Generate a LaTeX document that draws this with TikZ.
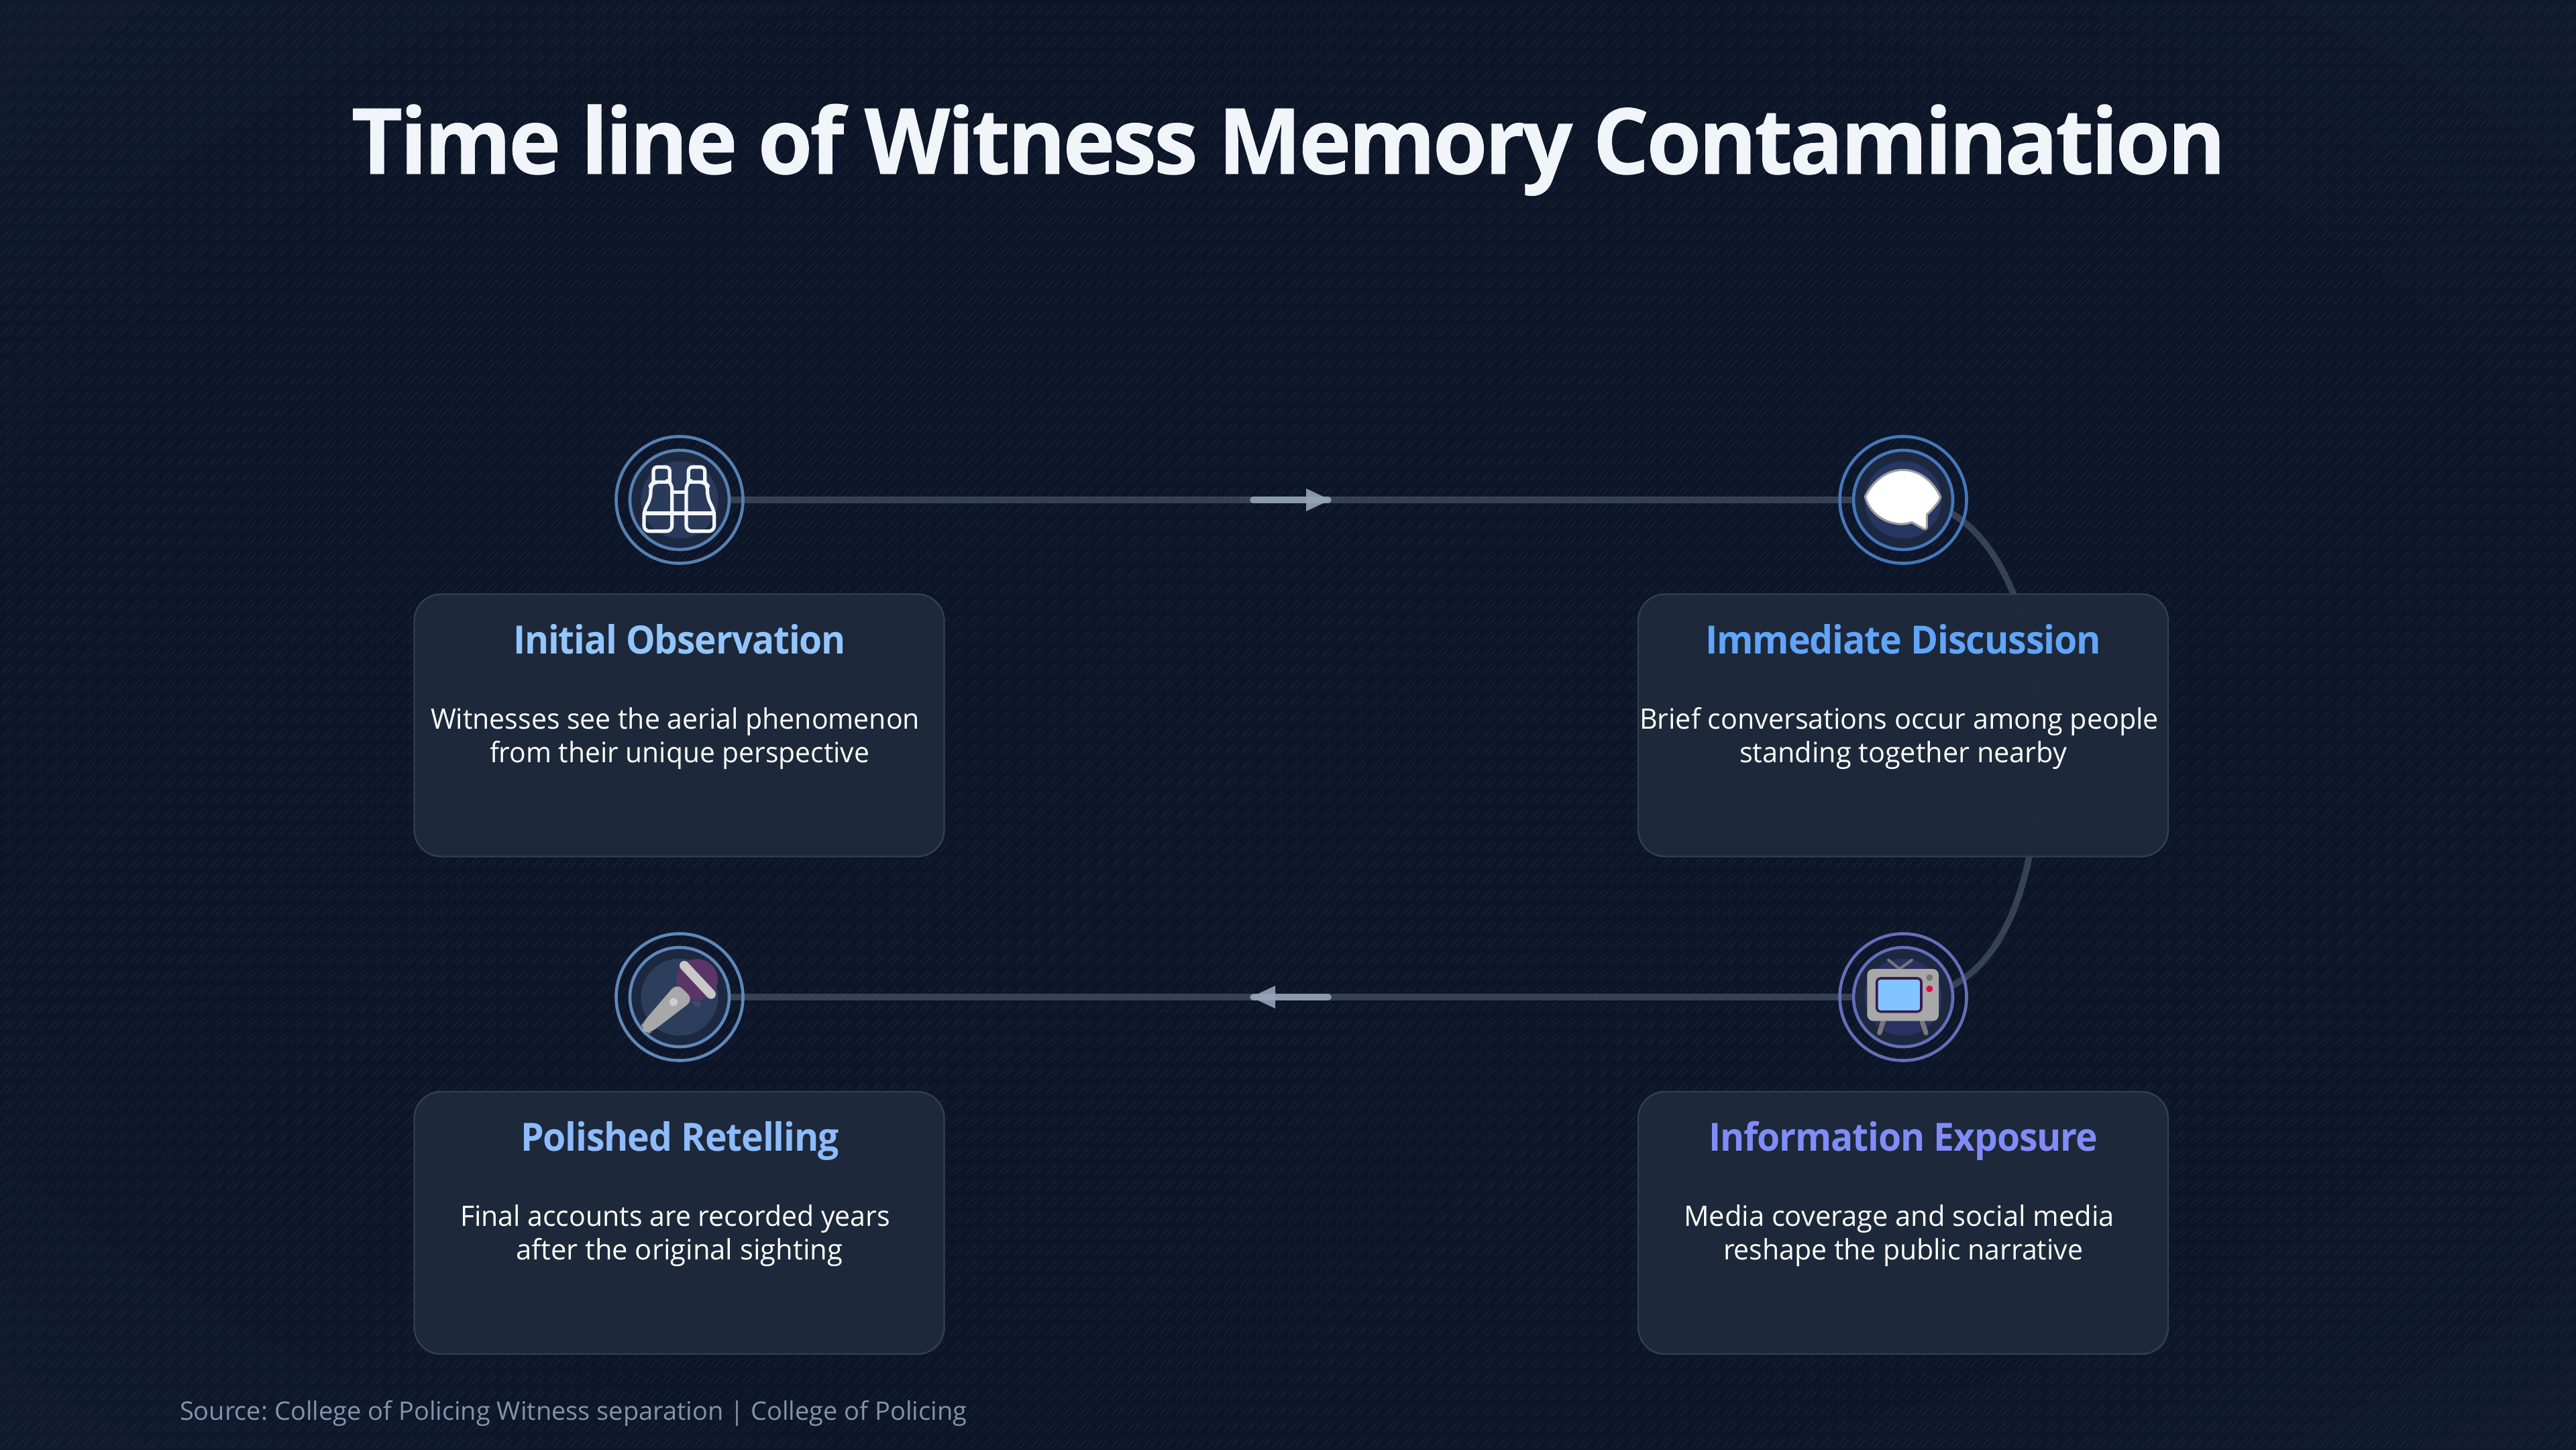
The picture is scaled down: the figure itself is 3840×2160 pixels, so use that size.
\documentclass[tikz,border=0pt]{standalone}
\usepackage{graphicx}
\usepackage{fontspec}
\setmainfont{Open Sans}
\usetikzlibrary{patterns,shapes.geometric}
\definecolor{bgmid}{HTML}{0D1628}
\definecolor{bgedge}{HTML}{1B2741}
\definecolor{cardfill}{HTML}{1E293B}
\definecolor{cardline}{HTML}{333E52}
\definecolor{linkc}{HTML}{94A3B8}
\definecolor{titlec}{HTML}{F1F5F9}
\definecolor{srcc}{HTML}{8294AE}
\definecolor{tA}{HTML}{93C5FD}
\definecolor{tB}{HTML}{60A5FA}
\definecolor{tC}{HTML}{8DBBFB}
\definecolor{tD}{HTML}{818CF8}
\definecolor{ringA}{HTML}{5580B2}
\definecolor{ringB}{HTML}{4577BA}
\definecolor{ringC}{HTML}{5E88B8}
\definecolor{ringD}{HTML}{646EB8}
\definecolor{annul}{HTML}{1C2840}
\definecolor{discA}{HTML}{2A3A5A}
\definecolor{discB}{HTML}{273761}
\definecolor{discC}{HTML}{2D3D5C}
\definecolor{discD}{HTML}{2A3160}
\definecolor{iconw}{HTML}{F1F5F9}
\pgfdeclareradialshading{bgglow}{\pgfpointorigin}{color(0bp)=(bgmid); color(25bp)=(bgmid); color(70.7bp)=(bgedge)}
\pgfdeclarepatternformonly{hatchtile}{\pgfqpoint{0pt}{0pt}}{\pgfqpoint{12pt}{12pt}}{\pgfqpoint{12pt}{12pt}}{%
  \pgfsetlinewidth{.7pt}\pgfsetroundcap
  \pgfpathmoveto{\pgfqpoint{1pt}{2pt}}\pgfpathlineto{\pgfqpoint{8.5pt}{10pt}}
  \pgfpathmoveto{\pgfqpoint{5pt}{1.5pt}}\pgfpathlineto{\pgfqpoint{11.5pt}{8.5pt}}
  \pgfusepath{stroke}}
\newcommand\fitw[2]{\resizebox{#1pt}{\height}{#2}}
\pgfdeclarelayer{back}
\pgfsetlayers{back,main}
\frenchspacing
\tikzset{
  txt/.style={anchor=base west,inner sep=0pt,outer sep=0pt},
  maintitle/.style={txt,text=titlec,font=\fontsize{68}{68}\selectfont\bfseries\addfontfeature{LetterSpace=-3,FakeBold=0.6}},
  cardhead/.style={txt,font=\fontsize{29}{29}\selectfont\bfseries\addfontfeature{LetterSpace=-2}},
  cardbody/.style={txt,text=white,font=\fontsize{21}{21}\selectfont},
  srctext/.style={txt,text=srcc,font=\fontsize{19}{19}\selectfont},
  cardbox/.style={draw=cardline,line width=1.2pt,fill=cardfill,fill opacity=.97,rounded corners=20pt,inner sep=0pt,minimum width=395pt,minimum height=195.5pt},
  link/.style={draw=linkc,draw opacity=.3,line width=4.8pt},
  flow/.style={draw=linkc,line width=4.8pt,line cap=round,draw opacity=.9},
  flowhead/.style={fill=linkc,fill opacity=.9},
  ringout/.style={circle,draw=#1,line width=2.3pt,minimum size=94.5pt,inner sep=0pt,outer sep=0pt},
  ringin/.style={circle,draw=#1,line width=2.3pt,minimum size=74pt,inner sep=0pt,outer sep=0pt,fill=annul},
  disc/.style={circle,fill=#1,minimum size=57.5pt,inner sep=0pt,outer sep=0pt},
  glyph/.style={shift={(#1)},x=.16667pt,y=-.16667pt},
  binoc/.style={draw=iconw,line width=2.6pt,line join=round,line cap=round},
}
\begin{document}
\begin{tikzpicture}[x=.5pt,y=-.5pt]
\useasboundingbox (0,0) rectangle (3840,2160);
% rings and discs
\foreach \nm/\px/\py/\rc/\dc in {a/1013/745/ringA/discA,b/2837/745/ringB/discB,c/1013/1486/ringC/discC,d/2837/1486/ringD/discD}{
  \node[ringout=\rc] (\nm) at (\px,\py) {};
  \node[ringin=\rc] (\nm in) at (\px,\py) {};
  \node[disc=\dc] (\nm disc) at (\px,\py) {};
}
\begin{pgfonlayer}{back}
  \shade[shading=bgglow] (0,0) rectangle (3840,2160);
  \fill[pattern=hatchtile,pattern color=white,fill opacity=.05] (0,0) rectangle (3840,2160);
  \coordinate (bend) at (3040,1114);
  \draw[link] (a.center) -- (b.center);
  \draw[link] (b.center) .. controls (2960,745) and (3040,900) .. (bend)
     .. controls (3040,1300) and (2990,1486) .. (d.center);
  \draw[link] (d.center) -- (c.center);
\end{pgfonlayer}
% cards
\node[cardbox] (card a) at (1012.5,1081) {};
\node[cardbox] (card b) at (2837,1081) {};
\node[cardbox] (card c) at (1012.5,1822.5) {};
\node[cardbox] (card d) at (2837,1822.5) {};
% flow arrows
\coordinate (fa0) at (1868,745);\coordinate (fa1) at (1980,745);
\coordinate (fb0) at (1980,1486);\coordinate (fb1) at (1868,1486);
\draw[flow] (fa0) -- (fa1);
\fill[flowhead] (1947,728) -- (1983,745) -- (1947,762) -- cycle;
\draw[flow] (fb0) -- (fb1);
\fill[flowhead] (1901,1469) -- (1865,1486) -- (1901,1503) -- cycle;
% title and source
\node[maintitle] (title) at (524,259) {\fitw{1397}{Time line of Witness Memory Contamination}};
\node[srctext] (source) at (268,2116) {\fitw{586.5}{Source: College of Policing Witness separation | College of Policing}};
% card texts
\node[cardhead,text=tA] (h a) at (765,974) {\fitw{248}{Initial Observation}};
\node[cardbody] (a1) at (642,1086) {\fitw{364.5}{Witnesses see the aerial phenomenon}};
\node[cardbody] (a2) at (730,1136) {\fitw{283}{from their unique perspective}};
\node[cardhead,text=tB] (h b) at (2542,974) {\fitw{295}{Immediate Discussion}};
\node[cardbody] (b1) at (2444,1086) {\fitw{387}{Brief conversations occur among people}};
\node[cardbody] (b2) at (2593,1136) {\fitw{244}{standing together nearby}};
\node[cardhead,text=tC] (h c) at (776,1715) {\fitw{237.5}{Polished Retelling}};
\node[cardbody] (c1) at (686,1827) {\fitw{320.5}{Final accounts are recorded years}};
\node[cardbody] (c2) at (769,1877) {\fitw{243.5}{after the original sighting}};
\node[cardhead,text=tD] (h d) at (2547,1715) {\fitw{290}{Information Exposure}};
\node[cardbody] (d1) at (2510,1827) {\fitw{321}{Media coverage and social media}};
\node[cardbody] (d2) at (2569,1877) {\fitw{268}{reshape the public narrative}};
% binoculars icon (zoom coordinates)
\begin{scope}[glyph={880,620}]
  \draw[binoc,rounded corners=3pt] (282,295) -- (282,228) -- (355,228) -- (355,295);
  \draw[binoc,rounded corners=4pt] (355,295) -- (282,295) -- (270,310) -- (270,365) -- (240,425) -- (240,515) -- (365,515) -- (365,300) -- (355,295);
  \draw[binoc,rounded corners=3pt] (439,295) -- (439,228) -- (512,228) -- (512,295);
  \draw[binoc,rounded corners=4pt] (439,295) -- (512,295) -- (524,310) -- (524,365) -- (554,425) -- (554,515) -- (429,515) -- (429,300) -- (439,295);
  \draw[binoc] (240,435) -- (554,435);
  \draw[binoc] (365,340) -- (429,340);
\end{scope}
% speech bubble
\begin{scope}[glyph={2700,620}]
  \draw[draw=white!62!black,line width=1.6pt,fill=white,line join=round]
    (241,360) .. controls (270,300) and (330,241) .. (410,241)
    .. controls (490,241) and (550,300) .. (578,362)
    .. controls (572,385) and (545,415) .. (517,441)
    -- (517,495) .. controls (516,506) and (508,508) .. (500,503)
    -- (450,475) .. controls (420,485) and (395,485) .. (375,480)
    .. controls (310,470) and (255,420) .. (241,360) -- cycle;
\end{scope}
% microphone
\begin{scope}[glyph={880,1360}]
  \fill[fill={rgb,255:red,59;green,76;blue,112}] (445,395) -- (490,398) -- (490,430) -- cycle;
  \fill[fill={rgb,255:red,92;green,53;blue,104}] (478,300) circle[radius=92];
  \fill[fill={rgb,255:red,168;green,168;blue,168},rounded corners=6pt] (387,315) -- (462,390) -- (268,538) -- (245,545) -- (224,520) -- (232,495) -- cycle;
  \draw[draw={rgb,255:red,200;green,200;blue,200},line width=7pt,line cap=round] (420,237) -- (540,365);
  \fill[fill={rgb,255:red,207;green,207;blue,207}] (372,400) circle[radius=18];
\end{scope}
% television
\begin{scope}[glyph={2700,1240}]
  \draw[draw={rgb,255:red,120;green,120;blue,120},line width=2pt,line cap=round] (345,572) -- (395,612) -- (450,572);
  \draw[draw={rgb,255:red,120;green,120;blue,120},line width=3.6pt,line cap=round] (322,845) -- (305,898);
  \draw[draw={rgb,255:red,120;green,120;blue,120},line width=3.6pt,line cap=round] (495,845) -- (513,898);
  \fill[fill={rgb,255:red,168;green,168;blue,168},rounded corners=4.5pt] (250,612) rectangle (570,845);
  \draw[draw={rgb,255:red,58;green,26;blue,80},line width=1.8pt,fill={rgb,255:red,130;green,196;blue,255},rounded corners=3pt] (293,654) rectangle (492,803);
  \fill[fill={rgb,255:red,120;green,120;blue,120}] (529,651) circle[radius=15];
  \fill[fill={rgb,255:red,221;green,10;blue,70}] (529,701) circle[radius=15];
\end{scope}
\end{tikzpicture}
\end{document}
